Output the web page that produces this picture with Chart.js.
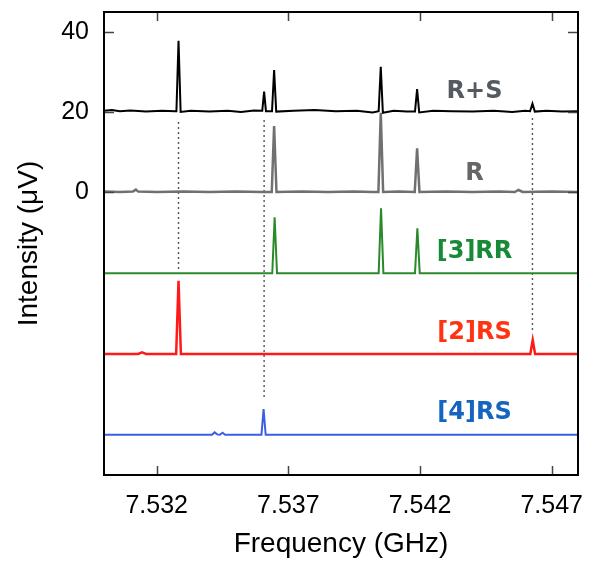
<!DOCTYPE html>
<html><head><meta charset="utf-8">
<script src="https://cdn.jsdelivr.net/npm/chart.js@4.4.0/dist/chart.umd.min.js"></script>
<style>html,body{margin:0;padding:0;background:#fff;}</style>
</head><body>
<canvas id="c" width="592" height="561"></canvas>
<script>
// ---- data ----
const xTicks = [7.532, 7.537, 7.542, 7.547];
const yTicks = [0, 20, 40];
const seriesNames = ['R+S', 'R', '[3]RR', '[2]RS', '[4]RS'];

const rsValues = [
 [7.5300,20.3],[7.5303,20.5],[7.5306,20.2],[7.5310,20.4],[7.5316,20.1],[7.5322,20.3],[7.5327,20.2],
 [7.53275,20.2],[7.53283,37.8],[7.53291,20.0],
 [7.5333,20.3],[7.5340,20.1],[7.5347,20.3],[7.5352,20.0],[7.5357,20.4],[7.5360,20.3],
 [7.53601,20.3],[7.53608,25.1],[7.53615,20.2],
 [7.53638,20.2],[7.53646,30.5],[7.53654,20.1],
 [7.5372,20.3],[7.5380,20.5],[7.5388,20.2],[7.5396,20.3],[7.5402,19.9],
 [7.54043,20.2],[7.54051,31.3],[7.54059,19.8],
 [7.5410,20.3],[7.5415,20.1],
 [7.54181,20.1],[7.54189,25.7],[7.54197,19.9],
 [7.5425,20.3],[7.5432,20.2],[7.5440,20.1],[7.5448,20.3],[7.5455,20.0],[7.5460,20.3],
 [7.54618,20.2],[7.54627,22.1],[7.54636,20.1],
 [7.5468,20.3],[7.5474,20.1],[7.5480,20.2]
];
const rValues = [
 [7.5300,0.1],[7.5306,0.0],[7.5311,0.1],[7.53121,0.6],[7.5313,0.1],[7.5320,0.0],[7.5330,0.1],[7.5340,0.0],[7.5350,0.1],[7.5360,0.0],
 [7.53637,0.0],[7.53646,16.5],[7.53655,0.0],
 [7.5375,0.1],[7.5385,0.0],[7.5395,0.1],[7.5402,0.0],
 [7.54042,0.0],[7.54051,19.8],[7.54060,0.0],
 [7.5412,0.1],
 [7.54180,0.0],[7.54189,10.9],[7.54198,0.0],
 [7.5430,0.1],[7.5440,0.0],[7.5450,0.1],[7.5456,0.0],[7.54574,0.5],[7.5459,0.0],[7.5470,0.1],[7.5480,0.0]
];
const rr3Values = [
 [7.5300,-20.3],[7.53639,-20.3],[7.53648,-6.3],[7.53657,-20.3],
 [7.54043,-20.3],[7.54052,-4.1],[7.54061,-20.3],
 [7.54181,-20.3],[7.54190,-9.1],[7.54199,-20.3],[7.5480,-20.3]
];
const rs2Values = [
 [7.5300,-40.5],[7.5313,-40.5],[7.53144,-40.1],[7.5316,-40.5],
 [7.53274,-40.5],[7.53283,-22.2],[7.53292,-40.5],
 [7.54619,-40.5],[7.54628,-37.0],[7.54637,-40.5],[7.5480,-40.5]
];
const rs4Values = [
 [7.5300,-60.7],[7.5341,-60.7],[7.5342,-60.1],[7.5343,-60.6],[7.5344,-60.7],[7.5345,-60.2],[7.5346,-60.7],
 [7.53598,-60.7],[7.53606,-54.3],[7.53614,-60.7],[7.5480,-60.7]
];
// dotted guide lines: [frequency, yTop, yBottom]
const guides = [[7.53283,17.5,-19.5],[7.53608,18,-51.5],[7.54627,18.5,-34.5]];

// ---- chart ----
const FONT = '"Liberation Sans", Arial, Helvetica, sans-serif';
const colors = ['#000000', '#707070', '#2a8a2a', '#ff1a1a', '#3b5fe0'];
const labelColors = ['#555a60', '#666666', '#178a37', '#ff3311', '#1565c0'];
const labelAnchors = [[7.54407,25.1],[7.54407,4.5],[7.54407,-14.9],[7.54407,-35.2],[7.54407,-55.2]];
const widths = [2, 2.5, 2, 2.5, 2];
const all = [rsValues, rValues, rr3Values, rs2Values, rs4Values];

const datasets = [];
guides.forEach(g => datasets.push({
  data: [{x:g[0], y:g[1]}, {x:g[0], y:g[2]}],
  borderColor: '#555', borderWidth: 1.4, borderDash: [2, 3], pointRadius: 0, order: 10
}));
all.forEach((vals, i) => datasets.push({
  label: seriesNames[i],
  data: vals.map(p => ({x:p[0], y:p[1]})),
  borderColor: colors[i], borderWidth: widths[i], pointRadius: 0, tension: 0, order: 5 - i
}));

const decor = {
  id: 'decor',
  afterDatasetsDraw(chart) {
    const {ctx, chartArea: a, scales: {x, y}} = chart;
    ctx.save();
    // labels
    ctx.font = 'bold 24px "DejaVu Sans", Verdana, sans-serif';
    ctx.textAlign = 'center'; ctx.textBaseline = 'middle';
    seriesNames.forEach((n, i) => {
      ctx.fillStyle = labelColors[i];
      ctx.fillText(n, x.getPixelForValue(labelAnchors[i][0]), y.getPixelForValue(labelAnchors[i][1]));
    });
    // inward ticks
    ctx.strokeStyle = '#444'; ctx.lineWidth = 1.5;
    ctx.beginPath();
    xTicks.forEach(v => {
      const px = Math.round(x.getPixelForValue(v)) + 0.5;
      ctx.moveTo(px, a.bottom); ctx.lineTo(px, a.bottom - 9);
      ctx.moveTo(px, a.top); ctx.lineTo(px, a.top + 9);
    });
    yTicks.forEach(v => {
      const py = Math.round(y.getPixelForValue(v)) + 0.5;
      ctx.moveTo(a.left, py); ctx.lineTo(a.left + 10, py);
      ctx.moveTo(a.right, py); ctx.lineTo(a.right - 10, py);
    });
    ctx.stroke();
    // frame
    ctx.strokeStyle = '#000'; ctx.lineWidth = 2;
    ctx.strokeRect(a.left, a.top, a.right - a.left, a.bottom - a.top);
    ctx.restore();
  }
};

new Chart(document.getElementById('c'), {
  type: 'line',
  data: { datasets },
  options: {
    responsive: false, animation: false, devicePixelRatio: 1,
    layout: { padding: { top: 12, right: 14, left: 0, bottom: 0 } },
    plugins: { legend: { display: false }, tooltip: { enabled: false } },
    scales: {
      x: {
        type: 'linear', min: 7.530, max: 7.548,
        afterBuildTicks: s => { s.ticks = xTicks.map(v => ({ value: v })); },
        afterFit: s => { s.height = 86; s.paddingLeft = 0; s.paddingRight = 0; },
        grid: { display: false, drawTicks: false }, border: { display: false },
        ticks: { padding: 16, color: '#000', font: { family: FONT, size: 25 }, maxRotation: 0, autoSkip: false,
                 callback: v => Number(v).toFixed(3) },
        title: { display: true, text: 'Frequency (GHz)', color: '#000', font: { family: FONT, size: 28 }, padding: { top: 0, bottom: 0 } }
      },
      y: {
        type: 'linear', min: -70.75, max: 45,
        afterBuildTicks: s => { s.ticks = yTicks.map(v => ({ value: v })); },
        afterFit: s => { s.width = 104; s.paddingTop = 0; s.paddingBottom = 0; },
        grid: { display: false, drawTicks: false }, border: { display: false },
        ticks: { padding: 15, color: '#000', font: { family: FONT, size: 25 }, callback: v => String(v) },
        title: { display: true, text: 'Intensity (μV)', color: '#000', font: { family: FONT, size: 28 }, padding: { top: 12, bottom: 0 } }
      }
    }
  },
  plugins: [decor]
});
</script>
</body></html>
